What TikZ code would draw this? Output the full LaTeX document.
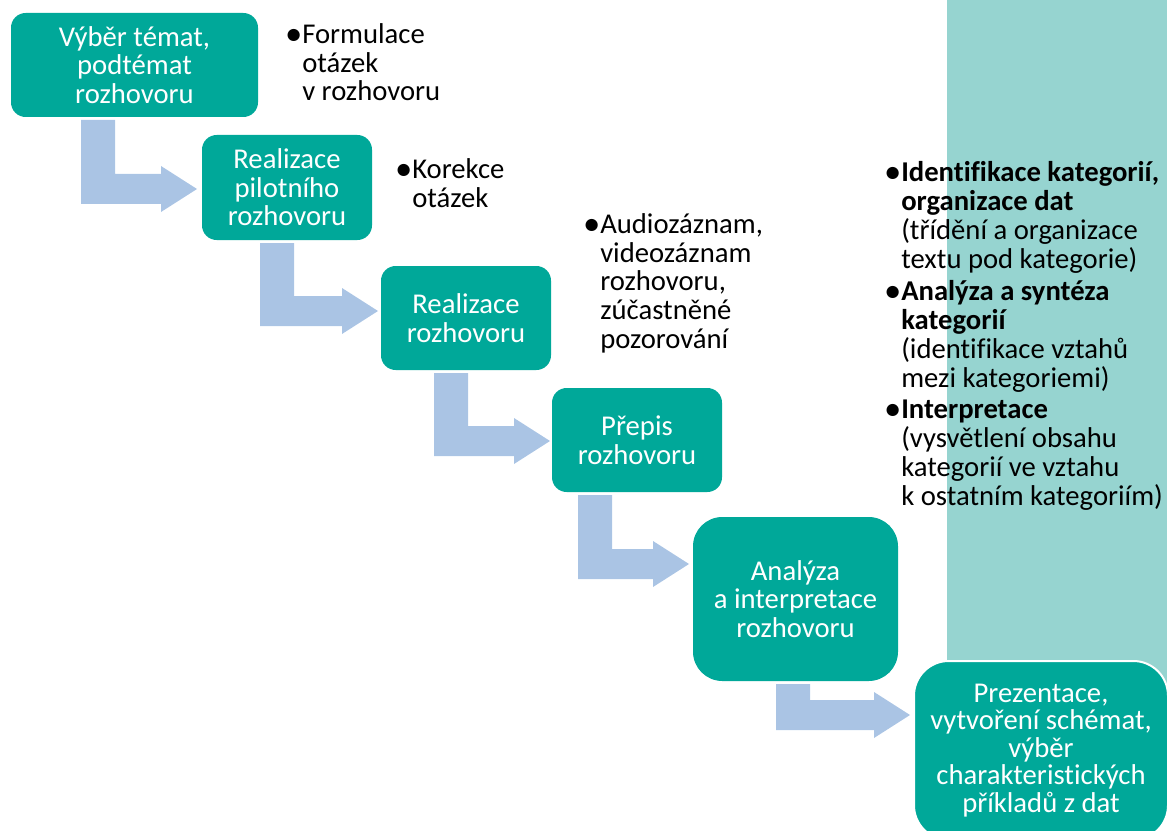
\documentclass[tikz,border=0pt]{standalone}
\usepackage{fontspec}
\setmainfont{Carlito}[RawFeature={-liga}]
\usetikzlibrary{calc}

\definecolor{stepcol}{RGB}{0,168,153}
\definecolor{panelcol}{RGB}{150,212,208}
\definecolor{flowcol}{RGB}{170,196,228}

% L-shaped block arrow from the bottom of one step to the side of the next
% #1 source node, #2 target node, #3 bar offset from source's left edge, #4 tip shift
\newcommand\bentarrow[4]{%
  \coordinate (s) at ($(#1.south west)+(#3,3)$);
  \coordinate (t) at ($(#2.west)+#4$);
  \fill[flowarrow] (s) -- ($(s)+(34,0)$) -- ($(s |- t)+(34,-15)$)
    -- ($(t)+(-36,-15)$) -- ($(t)+(-36,-23)$) -- (t) -- ($(t)+(-36,23)$)
    -- ($(t)+(-36,15)$) -- ($(s |- t)+(0,15)$) -- cycle;}
% hanging bullet
\newcommand\hbul{\llap{\textbf{•}\hspace{1pt}}}

\begin{document}
\begin{tikzpicture}[x=0.75pt,y=-0.75pt,
  stepbox/.style={fill=stepcol, text=white, align=center, inner sep=0pt,
    outer sep=0pt, rounded corners=11pt,
    font=\fontsize{21.5pt}{21.4pt}\selectfont},
  flowarrow/.style={fill=flowcol},
  note/.style={anchor=base west, align=left, inner sep=0pt,
    font=\fontsize{21.5pt}{21.4pt}\selectfont},
  sidenote/.style={anchor=base west, align=left, inner sep=0pt,
    font=\fontsize{21.5pt}{21.75pt}\selectfont}]
\useasboundingbox (0,0) rectangle (1167,831);

% side panel
\fill[panelcol] (947,0) rectangle (1167,700);

% steps
\node[stepbox, minimum width=185.25pt, minimum height=78pt] (b1) at (134.5,65)
  {Výběr témat,\\podtémat\\rozhovoru};
\node[stepbox, minimum width=127.5pt, minimum height=78.75pt] (b2) at (287,187.5)
  {Realizace\\pilotního\\rozhovoru};
\node[stepbox, minimum width=127.5pt, minimum height=78pt] (b3) at (466,318)
  {Realizace\\rozhovoru};
\node[stepbox, minimum width=127.5pt, minimum height=78pt] (b4) at (637,440)
  {Přepis\\rozhovoru};
\node[stepbox, minimum width=153.75pt, minimum height=123pt, rounded corners=22pt]
  (b5) at (795.5,599) {Analýza\\a interpretace\\rozhovoru};
\node[stepbox, minimum width=190.5pt, minimum height=134.25pt, rounded corners=26pt,
  draw=white, line width=1.5pt, font=\fontsize{21.5pt}{20.6pt}\selectfont]
  (b6) at (1041,750.5)
  {Prezentace,\\vytvoření schémat,\\výběr\\charakteristických\\příkladů z dat};

% connectors
\bentarrow{b1}{b2}{70}{(-5,1.5)}
\bentarrow{b2}{b3}{58}{(-3,-7)}
\bentarrow{b3}{b4}{53}{(-2,1)}
\bentarrow{b4}{b5}{26}{(-4,-35)}
\bentarrow{b5}{b6}{83}{(-4,-35.5)}

% notes (anchored at the baseline of their last line)
\node[note] (n1) at (302,101)
  {\hbul Formulace\\otázek\\v rozhovoru};
\node[note] (n2) at (412,207)
  {\hbul Korekce\\otázek};
\node[note] (n3) at (600,348)
  {\hbul Audiozáznam,\\videozáznam\\rozhovoru,\\zúčastněné\\pozorování};

\node[sidenote] (m1) at (901,268)
  {\hbul\textbf{Identifikace kategorií,}\\\textbf{organizace dat}\\(třídění a organizace\\textu pod kategorie)};
\node[sidenote] (m2) at (901,387)
  {\hbul\textbf{Analýza a syntéza}\\\textbf{kategorií}\\(identifikace vztahů\\mezi kategoriemi)};
\node[sidenote] (m3) at (901,505)
  {\hbul\textbf{Interpretace}\\(vysvětlení obsahu\\kategorií ve vztahu\\k ostatním kategoriím)};
\end{tikzpicture}
\end{document}
